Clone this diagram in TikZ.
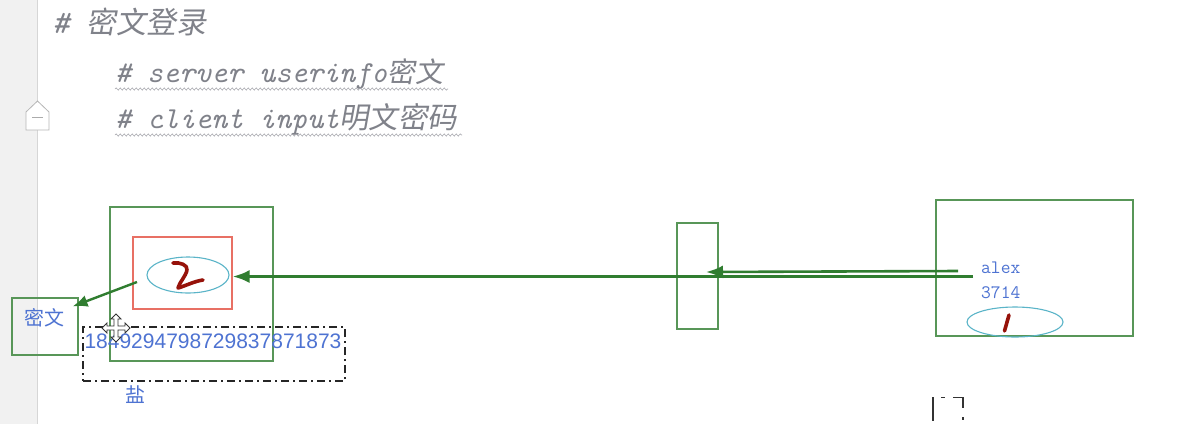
\documentclass[tikz,border=0pt]{standalone}
\usepackage{fontspec}
\usetikzlibrary{arrows.meta,shapes.geometric,decorations.pathmorphing,calc}
\newfontfamily\cjk{Noto Sans CJK SC}
\newfontfamily\cjkit[FakeSlant=0.18]{Noto Sans CJK SC}
\newfontfamily\sansfam{Liberation Sans}
\definecolor{hdrgray}{RGB}{128,130,138}
\definecolor{boxgreen}{RGB}{88,150,88}
\definecolor{arrgreen}{RGB}{48,125,48}
\definecolor{boxred}{RGB}{232,112,100}
\definecolor{ellcyan}{RGB}{90,180,200}
\definecolor{txtblue}{RGB}{78,115,210}
\definecolor{inkred}{RGB}{150,18,10}
\definecolor{margingray}{RGB}{241,241,241}
\definecolor{marginline}{RGB}{214,214,214}
\tikzset{
  gbox/.style={draw=boxgreen,line width=1.1pt,inner sep=0pt,rectangle},
  hdr/.style={anchor=base west,inner sep=0pt,text=hdrgray},
  bluetxt/.style={inner sep=0pt,text=txtblue},
  garrow/.style={draw=arrgreen,line width=3pt,-{Latex[length=17pt,width=13pt]}},
  wavy/.style={draw=hdrgray!70,line width=0.6pt,decorate,decoration={snake,segment length=4pt,amplitude=1.1pt}},
  ink/.style={draw=inkred,line width=3.6pt,line cap=round,line join=round},
}
\begin{document}
\begin{tikzpicture}[x=1pt,y=-1pt]
\useasboundingbox (0,0) rectangle (1196,424);
\fill[white] (0,0) rectangle (1196,424);
% editor margin
\fill[margingray] (0,0) rectangle (37,424);
\draw[marginline,line width=1pt] (37.5,0) -- (37.5,424);
\draw[fill=white,draw=marginline!85!black,line width=0.8pt] (26,112) -- (37.5,101) -- (49,112) -- (49,130) -- (26,130) -- cycle;
\draw[marginline!80!black,line width=0.8pt] (32,117.5) -- (43,117.5);

% header comments
\node[hdr] (h1) at (52,33) {\ttfamily\itshape\fontsize{33}{33}\selectfont \#\ {\cjkit\fontsize{30}{30}\selectfont 密文登录}};
\node[hdr] (h2) at (115,82) {\ttfamily\itshape\fontsize{30.5}{30.5}\selectfont \#\ server\ userinfo{\cjkit\fontsize{28}{28}\selectfont 密文}};
\node[hdr] (h3) at (115,128) {\ttfamily\itshape\fontsize{30.5}{30.5}\selectfont \#\ client\ input{\cjkit\fontsize{29.5}{29.5}\selectfont 明文密码}};
\draw[wavy] (115,89) -- (448,89);
\draw[wavy] (115,135) -- (462,135);

% left server box
\node[gbox,minimum width=163pt,minimum height=154pt] (srv) at (191.5,284) {};
\node[rectangle,draw=boxred,line width=1.1pt,inner sep=0pt,minimum width=99pt,minimum height=72pt] (redbox) at (182.5,273) {};
\node[ellipse,draw=ellcyan,line width=1.1pt,inner sep=0pt,minimum width=82pt,minimum height=36pt] (ell2) at (188,275) {};
\draw[ink] (173,263) .. controls (180,262) and (188,265) .. (187,270) .. controls (186,276) and (179,283) .. (178,288) .. controls (185,286) and (195,281) .. (203,280);

% cipher box
\node[gbox,minimum width=66pt,minimum height=57pt] (mwbox) at (45,326.5) {};
\node[bluetxt] (mw) at (44,318) {\cjk\fontsize{20}{20}\selectfont 密文};

% salt
\node[rectangle,draw=black!85,line width=1.2pt,dash pattern=on 8pt off 4pt on 2pt off 4pt,inner sep=0pt,minimum width=262pt,minimum height=54pt] (saltbox) at (214,354) {};
\node[bluetxt] (salt) at (213,341) {\sansfam\fontsize{21}{21}\selectfont 1849294798729837871873};
\node[bluetxt] (yan) at (135,395) {\cjk\fontsize{20}{20}\selectfont 盐};

% middle box
\node[gbox,minimum width=41pt,minimum height=106pt] (mid) at (697.5,276) {};
\coordinate (midhit) at (706,272);

% client box
\node[gbox,minimum width=197pt,minimum height=136pt] (cli) at (1034.5,268) {};
\node[bluetxt,anchor=west] (alex) at (981,268) {\ttfamily\fontsize{19}{19}\selectfont alex};
\node[bluetxt,anchor=west] (pw) at (981,293) {\ttfamily\fontsize{19}{19}\selectfont 3714};
\node[ellipse,draw=ellcyan,line width=1.1pt,inner sep=0pt,minimum width=96pt,minimum height=30pt] (ell1) at (1015,322) {};
\draw[ink] (1009,315) -- (1004.5,331);
\coordinate (s1) at (958,271);
\coordinate (s2) at (973,276.5);

% arrows
\draw[garrow,line width=2.6pt] (s1) -- (midhit);
\draw[garrow] (s2) -- (redbox.east |- s2);
\coordinate (s3) at (137,282);
\draw[garrow,line width=2.4pt,-{Latex[length=15pt,width=12pt]}] (s3) -- ($(mwbox.north east)+(-6,9)$);

% move cursor
\draw[fill=white,draw=black!80,line width=0.9pt,line join=miter]
  (116,314) -- (121,319) -- (118,319) -- (118,326) -- (125,326) -- (125,323) -- (130,328)
  -- (125,333) -- (125,330) -- (118,330) -- (118,337) -- (121,337) -- (116,342) -- (111,337)
  -- (114,337) -- (114,330) -- (107,330) -- (107,333) -- (102,328) -- (107,323) -- (107,326)
  -- (114,326) -- (114,319) -- (111,319) -- cycle;

% selection corner marks bottom right
\draw[black!80,line width=1.4pt] (933,397) -- (933,421);
\draw[black!80,line width=1.2pt] (941,397.5) -- (945,397.5);
\draw[black!80,line width=1.2pt] (953,397.5) -- (963,397.5) -- (963,408);
\draw[black!80,line width=1.2pt] (963,417) -- (963,420);
\end{tikzpicture}
\end{document}
